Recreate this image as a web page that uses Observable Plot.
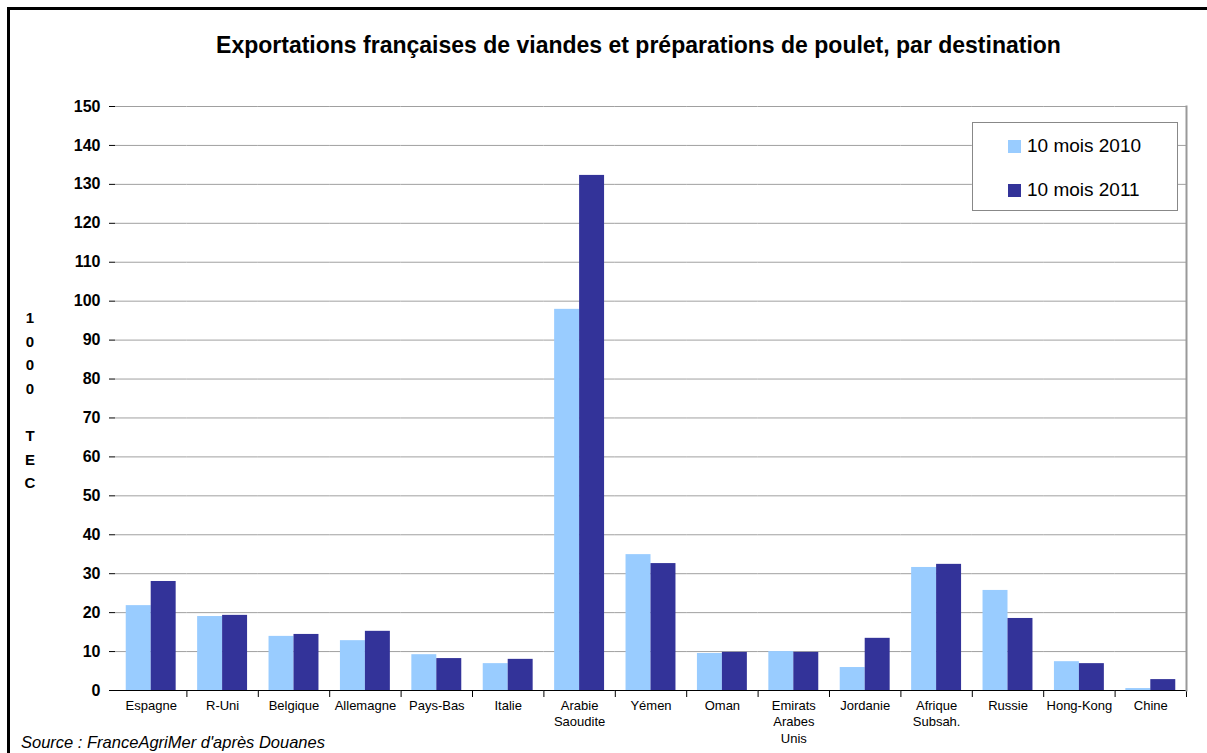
<!DOCTYPE html>
<html>
<head>
<meta charset="utf-8">
<script src="https://cdn.jsdelivr.net/npm/d3@7"></script>
<script src="https://cdn.jsdelivr.net/npm/@observablehq/plot@0.6"></script>
<style>
  html, body { margin: 0; padding: 0; background: #fff; overflow: hidden; }
  #wrap { position: relative; width: 1207px; height: 753px; overflow: hidden; background: #fff;
          font-family: "Liberation Sans", Arial, sans-serif; color: #000; }
  #border { position: absolute; left: 7px; top: 7px; width: 1400px; height: 1000px;
            border: 3px solid #000; box-sizing: border-box; pointer-events: none; }
  #title { height: 90px; line-height: 90px; font-size: 23px; font-weight: bold;
           text-align: center; padding-left: 70px; box-sizing: border-box; white-space: nowrap; }
  #chart svg { display: block; }
  #ylabel { position: absolute; left: 22px; top: 306px; width: 16px; text-align: center;
            font-size: 15px; font-weight: bold; line-height: 23.6px; }
  #legend { position: absolute; left: 972px; top: 122px; width: 206px; height: 89px;
            border: 1px solid #888; background: #fff; box-sizing: border-box; }
  .item { position: absolute; left: 35px; height: 22px; font-size: 19px; line-height: 22px; white-space: nowrap; }
  .sw { display: inline-block; width: 13px; height: 13px; margin-right: 6px; vertical-align: -1px; }
  #caption { position: absolute; left: 21px; top: 733px; font-size: 16.5px; font-style: italic;
             line-height: 18px; white-space: nowrap; }
</style>
</head>
<body>
<div id="wrap">
  <div id="title">Exportations françaises de viandes et préparations de poulet, par destination</div>
  <div id="chart"></div>
  <div id="ylabel"></div>
  <div id="legend"></div>
  <div id="caption">Source : FranceAgriMer d'après Douanes</div>
  <div id="border"></div>
</div>
<script>
const categories = ["Espagne", "R-Uni", "Belgique", "Allemagne", "Pays-Bas", "Italie",
  "Arabie\nSaoudite", "Yémen", "Oman", "Emirats\nArabes\nUnis", "Jordanie",
  "Afrique\nSubsah.", "Russie", "Hong-Kong", "Chine"];
const seriesNames = ["10 mois 2010", "10 mois 2011"];
const values2010 = [21.8, 19.0, 13.9, 12.8, 9.2, 6.9, 97.9, 34.9, 9.5, 10.0, 5.9, 31.6, 25.7, 7.4, 0.5];
const values2011 = [28.0, 19.3, 14.4, 15.2, 8.2, 8.0, 132.3, 32.6, 9.8, 9.8, 13.4, 32.4, 18.5, 6.9, 2.8];
const yTicks = [0, 10, 20, 30, 40, 50, 60, 70, 80, 90, 100, 110, 120, 130, 140, 150];
const seriesColors = ["#99CCFF", "#333399"];
const yAxisLabel = ["1", "0", "0", "0", "", "T", "E", "C"];

const rows = [];
categories.forEach((c, i) => {
  rows.push({cat: c, series: seriesNames[0], value: values2010[i]});
  rows.push({cat: c, series: seriesNames[1], value: values2011[i]});
});

const plot = Plot.plot({
  width: 1207,
  height: 650,
  marginTop: 16,
  marginBottom: 50,
  marginLeft: 115,
  marginRight: 21,
  style: {fontFamily: "'Liberation Sans', Arial, sans-serif", background: "transparent", overflow: "visible", color: "#000"},
  fx: {domain: categories, padding: 0, round: false, label: null},
  x: {domain: seriesNames, paddingInner: 0, paddingOuter: 0.43, round: false, axis: null},
  y: {domain: [0, 150], label: null},
  color: {domain: seriesNames, range: seriesColors},
  marks: [
    Plot.gridY(yTicks, {stroke: "#a0a0a0", strokeOpacity: 1, strokeWidth: 1}),
    Plot.barY(rows, {fx: "cat", x: "series", y: "value", fill: "series"}),
    Plot.ruleY([0], {stroke: "#000", strokeWidth: 1}),
    Plot.axisY(yTicks, {tickSize: 6, tickPadding: 9, fontSize: 16, fontWeight: "bold", line: true, label: null, stroke: "#000"}),
    Plot.axisFx({anchor: "bottom", tickSize: 0, tickPadding: 7, fontSize: 13, lineHeight: 1.3, label: null}),
    Plot.frame({anchor: "right", stroke: "#000", insetTop: 584, insetBottom: -6}),
    Plot.frame({facet: "super", anchor: "right", stroke: "#999", strokeWidth: 2})
  ]
});
document.getElementById("chart").appendChild(plot);

document.getElementById("ylabel").innerHTML = yAxisLabel.map(s => s || "&nbsp;").join("<br>");

const legend = document.getElementById("legend");
seriesNames.forEach((s, i) => {
  const it = document.createElement("div");
  it.className = "item";
  it.style.top = (12 + i * 44) + "px";
  it.innerHTML = `<span class="sw" style="background:${seriesColors[i]}"></span>${s}`;
  legend.appendChild(it);
});
</script>
</body>
</html>
